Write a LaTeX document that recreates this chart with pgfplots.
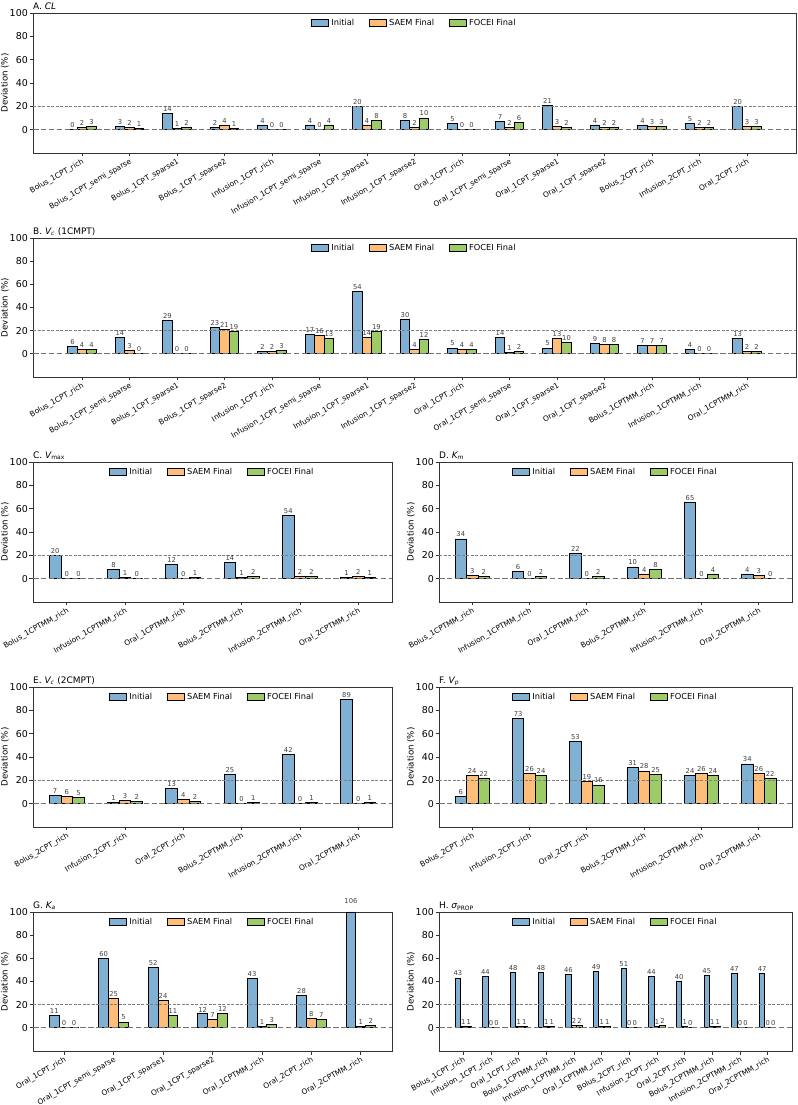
\documentclass[border=0pt]{standalone}
\usepackage{fontspec}
\setmainfont{DejaVu Sans}
\usepackage{pgfplots}
\usepackage{pgfplotstable}
\pgfplotsset{compat=1.18}

\definecolor{cInit}{RGB}{128,177,213}
\definecolor{cSaem}{RGB}{255,189,122}
\definecolor{cFocei}{RGB}{156,203,104}

% deviation (%) per scenario: initial estimate, SAEM final, FOCEI final
\pgfplotstableread{
init saem focei
0 2 3
3 2 1
14 1 2
2 4 1
4 0 0
4 0 4
20 4 8
8 2 10
5 0 0
7 2 6
21 3 2
4 2 2
4 3 3
5 2 2
20 3 3
}\dataCL
\pgfplotstableread{
init saem focei
6 4 4
14 3 0
29 0 0
23 21 19
2 2 3
17 16 13
54 14 19
30 4 12
5 4 4
14 1 2
5 13 10
9 8 8
7 7 7
4 0 0
13 2 2
}\dataVcOne
\pgfplotstableread{
init saem focei
20 0 0
8 1 0
12 0 1
14 1 2
54 2 2
1 2 1
}\dataVmax
\pgfplotstableread{
init saem focei
34 3 2
6 0 2
22 0 2
10 4 8
65 0 4
4 3 0
}\dataKm
\pgfplotstableread{
init saem focei
7 6 5
1 3 2
13 4 2
25 0 1
42 0 1
89 0 1
}\dataVcTwo
\pgfplotstableread{
init saem focei
6 24 22
73 26 24
53 19 16
31 28 25
24 26 24
34 26 22
}\dataVp
\pgfplotstableread{
init saem focei
11 0 0
60 25 5
52 24 11
12 7 12
43 1 3
28 8 7
106 1 2
}\dataKa
\pgfplotstableread{
init saem focei
43 1 1
44 0 0
48 1 1
48 1 1
46 2 2
49 1 1
51 0 0
44 1 2
40 1 0
45 1 1
47 0 0
47 0 0
}\dataSigma

\pgfplotsset{
  /pgfplots/ybar legend/.style={
    /pgfplots/legend image code/.code={%
      \draw[##1, line width=0.9bp] (0bp,-3.3bp) rectangle (17bp,3.3bp);}},
  panel/.style={
    scale only axis,
    ybar,
    bar width=0.2,
    ymin=-20, ymax=100,
    ytick={0,20,40,60,80,100},
    axis line style={black!80, line width=0.8bp},
    tick style={black!80, line width=0.8bp},
    major tick length=3.5bp,
    tick align=outside,
    tick pos=left,
    yticklabel style={font=\fontsize{9.5}{10}\selectfont, inner sep=1.5bp},
    xticklabel style={font=\fontsize{7.5}{8}\selectfont, rotate=30, anchor=north east, inner sep=1pt},
    ylabel={Deviation (\%)},
    every axis y label/.style={at={([xshift=-24bp]axis description cs:0,0.5)},
      rotate=90, anchor=south, font=\fontsize{8.7}{9}\selectfont, inner sep=0bp},
    every axis title/.style={at={(axis description cs:0,1)}, anchor=base west, yshift=3bp,
      font=\fontsize{9}{10}\selectfont, inner sep=0bp},
    legend style={at={(0.5,0.985)}, anchor=north, draw=none, fill=none,
      font=\fontsize{8.3}{9}\selectfont,
      nodes={inner xsep=2bp},
      /tikz/every even column/.append style={column sep=13bp}},
    legend columns=3,
    /pgf/number format/assume math mode=true,
  },
  vlabel/.style={
    nodes near coords={\pgfmathprintnumber[fixed,precision=0]{\pgfplotspointmeta}},
    every node near coord/.append style={font=\fontsize{6.8}{7}\selectfont, text=black!75, inner sep=1.5bp}},
  binit/.style={fill=cInit, draw=black, line width=0.9bp, bar shift=-0.2},
  bsaem/.style={fill=cSaem, draw=black, line width=0.9bp, bar shift=0},
  bfocei/.style={fill=cFocei, draw=black, line width=0.9bp, bar shift=0.2},
}

% 0 % and 20 % reference lines
\newcommand{\reflines}{%
  \draw[black!55, line width=1.3bp, dash pattern=on 5.5bp off 2.4bp]
    (rel axis cs:0,0.166667) -- (rel axis cs:1,0.166667);
  \draw[black!50, line width=0.7bp, dash pattern=on 3bp off 1.5bp]
    (rel axis cs:0,0.333333) -- (rel axis cs:1,0.333333);
}
% three labelled bar series with legend
\newcommand{\bars}[1]{%
  \addplot[binit, vlabel] table[x expr=\coordindex, y=init]{#1};
  \addplot[bsaem, vlabel] table[x expr=\coordindex, y=saem]{#1};
  \addplot[bfocei, vlabel] table[x expr=\coordindex, y=focei]{#1};
  \legend{Initial, SAEM Final, FOCEI Final}
  \reflines
}

\begin{document}
\begin{tikzpicture}
\useasboundingbox (0,0) rectangle (798bp,1105bp);

% A. CL
\begin{axis}[panel, at={(33bp,952bp)}, anchor=south west, width=763bp, height=140bp,
  xmin=-1.03, xmax=15.03, xtick={0,...,14},
  xticklabels={Bolus\_1CPT\_rich, Bolus\_1CPT\_semi\_sparse, Bolus\_1CPT\_sparse1, Bolus\_1CPT\_sparse2,
    Infusion\_1CPT\_rich, Infusion\_1CPT\_semi\_sparse, Infusion\_1CPT\_sparse1, Infusion\_1CPT\_sparse2,
    Oral\_1CPT\_rich, Oral\_1CPT\_semi\_sparse, Oral\_1CPT\_sparse1, Oral\_1CPT\_sparse2,
    Bolus\_2CPT\_rich, Infusion\_2CPT\_rich, Oral\_2CPT\_rich},
  title={A. {\itshape CL}}]
\bars{\dataCL}
\end{axis}

% B. Vc (1CMPT)
\begin{axis}[panel, at={(33bp,728bp)}, anchor=south west, width=763bp, height=139bp,
  xmin=-1.03, xmax=15.03, xtick={0,...,14},
  xticklabels={Bolus\_1CPT\_rich, Bolus\_1CPT\_semi\_sparse, Bolus\_1CPT\_sparse1, Bolus\_1CPT\_sparse2,
    Infusion\_1CPT\_rich, Infusion\_1CPT\_semi\_sparse, Infusion\_1CPT\_sparse1, Infusion\_1CPT\_sparse2,
    Oral\_1CPT\_rich, Oral\_1CPT\_semi\_sparse, Oral\_1CPT\_sparse1, Oral\_1CPT\_sparse2,
    Bolus\_1CPTMM\_rich, Infusion\_1CPTMM\_rich, Oral\_1CPTMM\_rich},
  title={B. {\itshape V}\textsubscript{\itshape c} (1CMPT)}]
\bars{\dataVcOne}
\end{axis}

% C. Vmax
\begin{axis}[panel, at={(33bp,503bp)}, anchor=south west, width=359bp, height=140bp,
  xmin=-0.58, xmax=5.58, xtick={0,...,5},
  xticklabels={Bolus\_1CPTMM\_rich, Infusion\_1CPTMM\_rich, Oral\_1CPTMM\_rich,
    Bolus\_2CPTMM\_rich, Infusion\_2CPTMM\_rich, Oral\_2CPTMM\_rich},
  title={C. {\itshape V}\textsubscript{max}}]
\bars{\dataVmax}
\end{axis}

% D. Km
\begin{axis}[panel, at={(439bp,503bp)}, anchor=south west, width=353bp, height=140bp,
  xmin=-0.58, xmax=5.58, xtick={0,...,5},
  xticklabels={Bolus\_1CPTMM\_rich, Infusion\_1CPTMM\_rich, Oral\_1CPTMM\_rich,
    Bolus\_2CPTMM\_rich, Infusion\_2CPTMM\_rich, Oral\_2CPTMM\_rich},
  title={D. {\itshape K}\textsubscript{\itshape m}}]
\bars{\dataKm}
\end{axis}

% E. Vc (2CMPT)
\begin{axis}[panel, at={(33bp,278bp)}, anchor=south west, width=359bp, height=140bp,
  xmin=-0.58, xmax=5.58, xtick={0,...,5},
  xticklabels={Bolus\_2CPT\_rich, Infusion\_2CPT\_rich, Oral\_2CPT\_rich,
    Bolus\_2CPTMM\_rich, Infusion\_2CPTMM\_rich, Oral\_2CPTMM\_rich},
  title={E. {\itshape V}\textsubscript{\itshape c} (2CMPT)}]
\bars{\dataVcTwo}
\end{axis}

% F. Vp
\begin{axis}[panel, at={(439bp,278bp)}, anchor=south west, width=353bp, height=140bp,
  xmin=-0.58, xmax=5.58, xtick={0,...,5},
  xticklabels={Bolus\_2CPT\_rich, Infusion\_2CPT\_rich, Oral\_2CPT\_rich,
    Bolus\_2CPTMM\_rich, Infusion\_2CPTMM\_rich, Oral\_2CPTMM\_rich},
  title={F. {\itshape V}\textsubscript{\itshape p}}]
\bars{\dataVp}
\end{axis}

% G. Ka -- bars are cut at the top of the axis, their labels keep the full value
\begin{axis}[panel, clip=false, at={(33bp,54bp)}, anchor=south west, width=359bp, height=139bp,
  xmin=-0.63, xmax=6.63, xtick={0,...,6},
  xticklabels={Oral\_1CPT\_rich, Oral\_1CPT\_semi\_sparse, Oral\_1CPT\_sparse1, Oral\_1CPT\_sparse2,
    Oral\_1CPTMM\_rich, Oral\_2CPT\_rich, Oral\_2CPTMM\_rich},
  title={G. {\itshape K}\textsubscript{\itshape a}}]
\addplot[binit] table[x expr=\coordindex, y expr={min(\thisrow{init},100)}]{\dataKa};
\addplot[bsaem, vlabel] table[x expr=\coordindex, y=saem]{\dataKa};
\addplot[bfocei, vlabel] table[x expr=\coordindex, y=focei]{\dataKa};
\addplot[forget plot, draw=none, fill=none, bar shift=-0.2, vlabel]
  table[x expr=\coordindex, y=init]{\dataKa};
\legend{Initial, SAEM Final, FOCEI Final}
\reflines
\end{axis}

% H. sigma PROP
\begin{axis}[panel, at={(439bp,54bp)}, anchor=south west, width=353bp, height=139bp,
  xmin=-0.88, xmax=11.88, xtick={0,...,11},
  xticklabels={Bolus\_1CPT\_rich, Infusion\_1CPT\_rich, Oral\_1CPT\_rich, Bolus\_1CPTMM\_rich,
    Infusion\_1CPTMM\_rich, Oral\_1CPTMM\_rich, Bolus\_2CPT\_rich, Infusion\_2CPT\_rich,
    Oral\_2CPT\_rich, Bolus\_2CPTMM\_rich, Infusion\_2CPTMM\_rich, Oral\_2CPTMM\_rich},
  title={H. {\itshape σ}\textsubscript{PROP}}]
\bars{\dataSigma}
\end{axis}
\end{tikzpicture}
\end{document}
